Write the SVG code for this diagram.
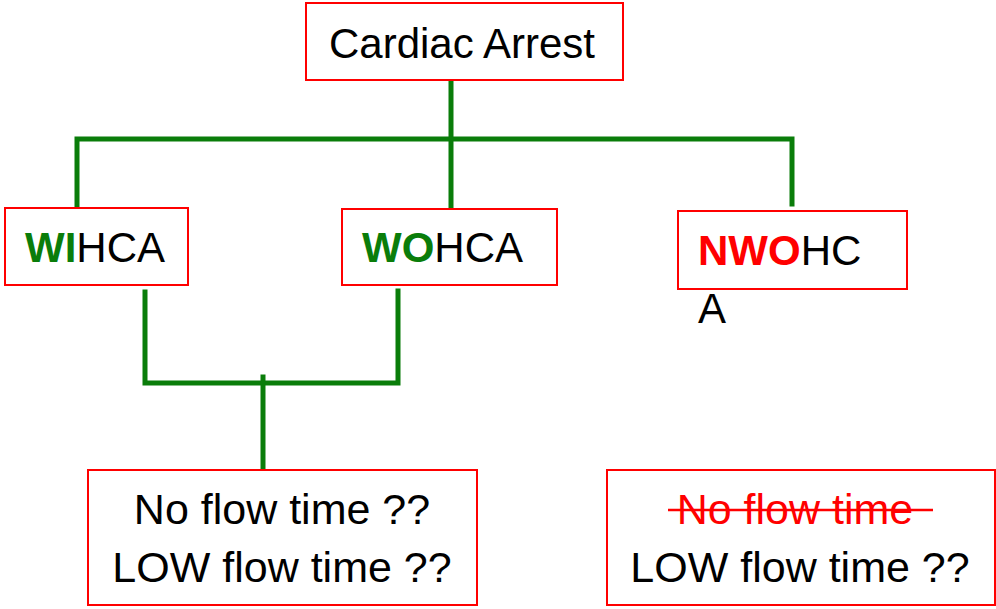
<svg xmlns="http://www.w3.org/2000/svg" width="996" height="609" viewBox="0 0 996 609">
<style>
.box{fill:#fff;stroke:#ff0000;stroke-width:2}
.t{font-family:"Liberation Sans",Arial,sans-serif;font-size:42px;fill:#000}
.b{font-size:43px}
.g{fill:#0a7d0a;font-weight:bold}
.r{fill:#ff0000;font-weight:bold}
.c{fill:none;stroke:#0a7d0a;stroke-width:5;stroke-linecap:square;stroke-linejoin:miter}
</style>
<rect width="996" height="609" fill="#fff"/>
<g id="connectors">
<line class="c" x1="451" y1="82" x2="451" y2="207"/>
<polyline class="c" points="77,205 77,139 792,139 792,204"/>
<polyline class="c" points="145,292 145,383 398,383 398,291"/>
<line class="c" x1="263" y1="377" x2="263" y2="468"/>
</g>
<g id="cardiac-arrest">
<rect class="box" x="306" y="3" width="317" height="77"/>
<text class="t" x="462" y="58" text-anchor="middle">Cardiac Arrest</text>
</g>
<g id="wihca">
<rect class="box" x="5" y="208" width="183" height="77"/>
<text class="t" x="25" y="262"><tspan class="g">WI</tspan>HCA</text>
</g>
<g id="wohca">
<rect class="box" x="342" y="209" width="215" height="76"/>
<text class="t" x="362" y="262"><tspan class="g">WO</tspan>HCA</text>
</g>
<g id="nwohca">
<rect class="box" x="678" y="211" width="229" height="78"/>
<text class="t" x="698" y="265"><tspan class="r">NWO</tspan>HC</text>
<text class="t" x="698" y="323">A</text>
</g>
<g id="flow-left">
<rect class="box" x="88" y="470" width="389" height="135"/>
<text class="t b" x="282" y="524" text-anchor="middle">No flow time ??</text>
<text class="t b" x="282" y="582" text-anchor="middle">LOW flow time ??</text>
</g>
<g id="flow-right">
<rect class="box" x="607" y="470" width="388" height="135"/>
<text class="t b" x="795" y="524" text-anchor="middle" style="fill:#ff0000">No flow time</text>
<line x1="668" y1="510" x2="933" y2="510" stroke="#ff0000" stroke-width="2.5"/>
<text class="t b" x="800" y="582" text-anchor="middle">LOW flow time ??</text>
</g>
</svg>
